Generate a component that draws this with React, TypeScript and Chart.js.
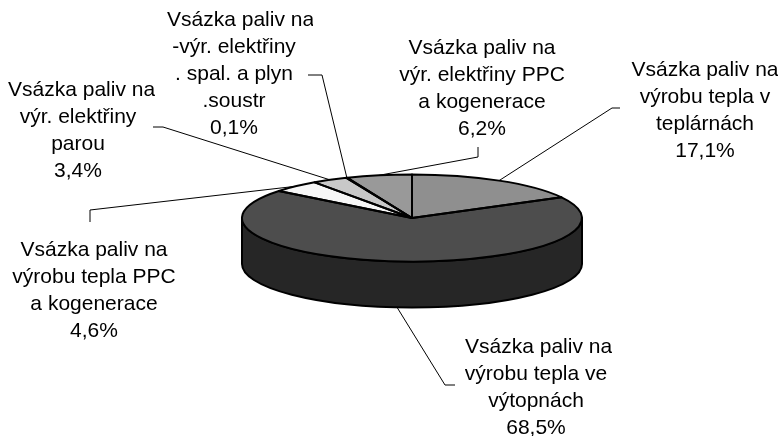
import { useEffect, useRef } from 'react';
import { Chart, registerables } from 'chart.js';

Chart.register(...registerables);

// ---- data ----
const categories = [
  'Vsázka paliv na výrobu tepla v teplárnách',
  'Vsázka paliv na výrobu tepla ve výtopnách',
  'Vsázka paliv na výrobu tepla PPC a kogenerace',
  'Vsázka paliv na výr. elektřiny parou',
  'Vsázka paliv na -výr. elektřiny . spal. a plyn .soustr',
  'Vsázka paliv na výr. elektřiny PPC a kogenerace',
];
const labelLines = [
  ['Vsázka paliv na', 'výrobu tepla v', 'teplárnách'],
  ['Vsázka paliv na', 'výrobu tepla ve', 'výtopnách'],
  ['Vsázka paliv na', 'výrobu tepla PPC', 'a kogenerace'],
  ['Vsázka paliv na', 'výr. elektřiny', 'parou'],
  ['Vsázka paliv na', '-výr. elektřiny', '. spal. a plyn', '.soustr'],
  ['Vsázka paliv na', 'výr. elektřiny PPC', 'a kogenerace'],
];
const values = [17.1, 68.5, 4.6, 3.4, 0.1, 6.2];

// ---- styles / layout ----
const topColors = ['#8f8f8f', '#4d4d4d', '#f7f7f7', '#c8c8c8', '#222222', '#999999'];
const sideColors = ['#5a5a5a', '#262626', '#bdbdbd', '#8a8a8a', '#111111', '#606060'];
const labelLayout = [
  { cx: 705, y0: 70, clipL: 628, clipR: 778, elbow: [612, 108], end: [620, 108] },
  { cx: 536, y0: 347, clipL: 465, clipR: 612, elbow: [445, 385], end: [455, 385] },
  { cx: 94, y0: 250, clipL: 0, clipR: 782, elbow: [90, 210], end: [90, 222] },
  { cx: 78, y0: 90, clipL: 8, clipR: 155, elbow: [163, 127], end: [153, 127] },
  { cx: 234, y0: 20, clipL: 167, clipR: 313, elbow: [322, 75], end: [308, 75] },
  { cx: 482, y0: 48, clipL: 0, clipR: 782, elbow: [478, 157], end: [478, 147] },
];
const TILT = 0.256;
const DEPTH = 46;
const LINE_H = 27;
const FONT = '21px "Liberation Sans", Arial, sans-serif';

const fmt = (v: number) => v.toFixed(1).replace('.', ',') + '%';

const pie3d = {
  id: 'pie3d',
  beforeDatasetsDraw(chart: any) {
    const ctx: CanvasRenderingContext2D = chart.ctx;
    const arcs = chart.getDatasetMeta(0).data as any[];
    if (!arcs.length) return;
    const { x, y, outerRadius: r } = arcs[0].getProps(['x', 'y', 'outerRadius'], true);
    const ry = r * TILT;
    ctx.save();
    ctx.lineWidth = 2;
    ctx.strokeStyle = '#000';
    ctx.lineJoin = 'round';
    arcs.forEach((arc, i) => {
      const { startAngle: s, endAngle: e } = arc.getProps(['startAngle', 'endAngle'], true);
      for (const off of [0, 2 * Math.PI, -2 * Math.PI]) {
        const a = Math.max(s, off);
        const b = Math.min(e, off + Math.PI);
        if (b > a) {
          ctx.beginPath();
          ctx.ellipse(x, y, r, ry, 0, a, b);
          ctx.lineTo(x + r * Math.cos(b), y + ry * Math.sin(b) + DEPTH);
          ctx.ellipse(x, y + DEPTH, r, ry, 0, b, a, true);
          ctx.closePath();
          ctx.fillStyle = sideColors[i];
          ctx.fill();
          ctx.stroke();
        }
      }
    });
    ctx.restore();
    ctx.save();
    ctx.translate(x, y);
    ctx.scale(1, TILT);
    ctx.translate(-x, -y);
  },
  afterDatasetsDraw(chart: any) {
    const ctx: CanvasRenderingContext2D = chart.ctx;
    ctx.restore();
    const arcs = chart.getDatasetMeta(0).data as any[];
    if (!arcs.length) return;
    const { x, y, outerRadius: r } = arcs[0].getProps(['x', 'y', 'outerRadius'], true);
    const ry = r * TILT;
    ctx.save();
    ctx.lineWidth = 2;
    ctx.strokeStyle = '#000';
    ctx.lineJoin = 'round';
    arcs.forEach((arc) => {
      const { startAngle: s, endAngle: e } = arc.getProps(['startAngle', 'endAngle'], true);
      ctx.beginPath();
      ctx.moveTo(x, y);
      ctx.ellipse(x, y, r, ry, 0, s, e);
      ctx.closePath();
      ctx.stroke();
    });
    // leader lines
    ctx.lineWidth = 1;
    arcs.forEach((arc, i) => {
      const { startAngle: s, endAngle: e } = arc.getProps(['startAngle', 'endAngle'], true);
      const m = (s + e) / 2;
      const sn = Math.sin(m);
      const px = x + r * Math.cos(m);
      const py = y + ry * sn + (sn > 0 ? DEPTH : 0);
      const L = labelLayout[i];
      ctx.beginPath();
      ctx.moveTo(px, py);
      ctx.lineTo(L.elbow[0], L.elbow[1]);
      ctx.lineTo(L.end[0], L.end[1]);
      ctx.stroke();
    });
    // labels
    ctx.font = FONT;
    ctx.fillStyle = '#000';
    ctx.textBaseline = 'middle';
    labelLines.forEach((lines, i) => {
      const L = labelLayout[i];
      const all = [...lines, fmt(values[i])];
      ctx.save();
      ctx.beginPath();
      ctx.rect(L.clipL, 0, L.clipR - L.clipL, 436);
      ctx.clip();
      all.forEach((t, k) => {
        const w = ctx.measureText(t).width;
        const ly = L.y0 + k * LINE_H;
        if (w > L.clipR - L.clipL) {
          ctx.textAlign = 'left';
          ctx.fillText(t, L.clipL, ly);
        } else {
          ctx.textAlign = 'center';
          ctx.fillText(t, L.cx, ly);
        }
      });
      ctx.restore();
    });
    ctx.restore();
  },
};

export default function App() {
  const ref = useRef<HTMLCanvasElement>(null);
  useEffect(() => {
    document.body.style.margin = '0';
    const canvas = ref.current!;
    const chart = new Chart(canvas, {
      type: 'pie',
      data: {
        labels: categories,
        datasets: [
          {
            data: values,
            backgroundColor: topColors,
            borderWidth: 0,
            hoverOffset: 0,
            clip: false,
            radius: 170,
          } as any,
        ],
      },
      options: {
        responsive: false,
        animation: false,
        events: [],
        layout: { padding: { left: 242, right: 200, top: 48, bottom: 48 } },
        plugins: { legend: { display: false }, tooltip: { enabled: false } },
      },
      plugins: [pie3d as any],
    });
    return () => chart.destroy();
  }, []);
  return <canvas ref={ref} width={782} height={436} style={{ display: 'block' }} />;
}
